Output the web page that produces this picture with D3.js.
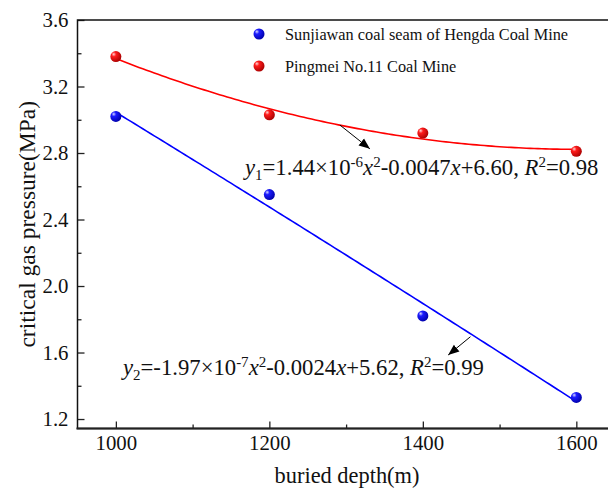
<html>
<head>
<meta charset="utf-8">
<script src="https://cdn.jsdelivr.net/npm/d3@7"></script>
</head>
<body style="margin:0">
<script>
// buried depth (m)
var depths = [1000, 1200, 1400, 1600];
// critical gas pressure (MPa)
var sunjiawan = [3.02, 2.55, 1.82, 1.33];
var pingmei = [3.38, 3.03, 2.92, 2.81];

var seriesNames = ["Sunjiawan coal seam of Hengda Coal Mine", "Pingmei No.11 Coal Mine"];
var xTicks = [1000, 1200, 1400, 1600];
var xMinor = [1100, 1300, 1500];
var yTicks = [1.2, 1.6, 2.0, 2.4, 2.8, 3.2, 3.6];
var yMinor = [1.4, 1.8, 2.2, 2.6, 3.0, 3.4];

var FONT = "'Liberation Serif'";
var W = 608, H = 491;
var plot = {left: 77.5, top: 20, right: 614.7, bottom: 428.5};

var svg = d3.select("body").append("svg")
    .attr("width", W)
    .attr("height", H)
    .style("display", "block");

var x = d3.scaleLinear().domain([950, 1650]).range([plot.left, plot.right]);
var y = d3.scaleLinear().domain([1.143, 3.6]).range([plot.bottom, plot.top]);

// gradients for the ball markers
var defs = svg.append("defs");
function ball(id, light, mid, dark) {
  var g = defs.append("radialGradient").attr("id", id)
      .attr("cx", "35%").attr("cy", "35%").attr("r", "70%")
      .attr("fx", "30%").attr("fy", "28%");
  g.append("stop").attr("offset", "0%").attr("stop-color", light);
  g.append("stop").attr("offset", "30%").attr("stop-color", mid);
  g.append("stop").attr("offset", "100%").attr("stop-color", dark);
}
ball("ballBlue", "#d8d8ff", "#1c1cff", "#0000a8");
ball("ballRed", "#ffd8d8", "#ff1c1c", "#a80000");

defs.append("marker")
    .attr("id", "arrow")
    .attr("viewBox", "0 0 10 10")
    .attr("refX", 10).attr("refY", 5)
    .attr("markerWidth", 11).attr("markerHeight", 11)
    .attr("markerUnits", "userSpaceOnUse")
    .attr("orient", "auto")
  .append("path")
    .attr("d", "M0,1 L10,5 L0,9 Z")
    .attr("fill", "#000");

// least squares quadratic fit of one series
function quadFit(xs, ys) {
  var n = xs.length, s = [0, 0, 0, 0, 0], t = [0, 0, 0];
  for (var i = 0; i < n; i++) {
    var u = (xs[i] - 1300) / 100;
    for (var k = 0; k < 5; k++) s[k] += Math.pow(u, k);
    for (var k = 0; k < 3; k++) t[k] += ys[i] * Math.pow(u, k);
  }
  var A = [[s[0], s[1], s[2], t[0]], [s[1], s[2], s[3], t[1]], [s[2], s[3], s[4], t[2]]];
  for (var c = 0; c < 3; c++) {
    for (var r = c + 1; r < 3; r++) {
      var f = A[r][c] / A[c][c];
      for (var k = c; k < 4; k++) A[r][k] -= f * A[c][k];
    }
  }
  var b = [0, 0, 0];
  for (var r = 2; r >= 0; r--) {
    var v = A[r][3];
    for (var k = r + 1; k < 3; k++) v -= A[r][k] * b[k];
    b[r] = v / A[r][r];
  }
  return function(xv) { var u = (xv - 1300) / 100; return b[0] + b[1] * u + b[2] * u * u; };
}

var line = d3.line().x(function(d) { return x(d[0]); }).y(function(d) { return y(d[1]); });
var xs = d3.range(1000, 1601, 5);

var fitRed = quadFit(depths, pingmei);
var fitBlue = quadFit(depths, sunjiawan);

svg.append("path")
    .attr("d", line(xs.map(function(v) { return [v, fitRed(v)]; })))
    .attr("fill", "none").attr("stroke", "#ff0000").attr("stroke-width", 1.6);
svg.append("path")
    .attr("d", line(xs.map(function(v) { return [v, fitBlue(v)]; })))
    .attr("fill", "none").attr("stroke", "#0000ff").attr("stroke-width", 1.6);

// axes (inward ticks)
var gx = svg.append("g").attr("transform", "translate(0," + plot.bottom + ")");
gx.call(d3.axisBottom(x).tickValues(xTicks).tickSize(-7).tickPadding(7).tickFormat(d3.format("d")));
gx.append("g").call(d3.axisBottom(x).tickValues(xMinor).tickSize(-4).tickFormat(""));

var gy = svg.append("g").attr("transform", "translate(" + plot.left + ",0)");
gy.call(d3.axisLeft(y).tickValues(yTicks).tickSize(-7).tickPadding(9).tickFormat(d3.format(".1f")));
gy.append("g").call(d3.axisLeft(y).tickValues(yMinor).tickSize(-4).tickFormat(""));

svg.selectAll(".domain").remove();
gx.attr("font-family", null);
gy.attr("font-family", null);
svg.selectAll(".tick line").attr("stroke", "#222").attr("stroke-width", 1.3);
svg.selectAll(".tick text").attr("font-size", 20.8).attr("fill", "#111");

// frame
svg.append("rect")
    .attr("x", plot.left).attr("y", plot.top)
    .attr("width", plot.right - plot.left).attr("height", plot.bottom - plot.top)
    .attr("fill", "none").attr("stroke", "#111").attr("stroke-width", 1.5);
svg.append("line")
    .attr("x1", plot.left - 1).attr("x2", plot.right)
    .attr("y1", plot.bottom).attr("y2", plot.bottom)
    .attr("stroke", "#222").attr("stroke-width", 2.2);

// axis titles
svg.append("text")
    .attr("x", 347).attr("y", 483)
    .attr("text-anchor", "middle").attr("font-size", 22.4).attr("fill", "#111")
    .text("buried depth(m)");
svg.append("text")
    .attr("transform", "translate(35," + ((plot.top + plot.bottom) / 2) + ") rotate(-90)")
    .attr("text-anchor", "middle").attr("font-size", 23.5).attr("fill", "#111")
    .text("critical gas pressure(MPa)");

// points
var series = [
  {name: seriesNames[0], values: sunjiawan, fill: "url(#ballBlue)"},
  {name: seriesNames[1], values: pingmei, fill: "url(#ballRed)"}
];
series.forEach(function(s) {
  svg.append("g").selectAll("circle")
    .data(depths.map(function(d, i) { return [d, s.values[i]]; }))
    .enter().append("circle")
      .attr("cx", function(d) { return x(d[0]); })
      .attr("cy", function(d) { return y(d[1]); })
      .attr("r", 5.5)
      .attr("fill", s.fill);
});

// legend
var legend = svg.append("g").selectAll("g")
    .data(series).enter().append("g")
    .attr("transform", function(d, i) { return "translate(259," + (34 + i * 32) + ")"; });
legend.append("circle").attr("r", 5.5).attr("fill", function(d) { return d.fill; });
legend.append("text")
    .attr("x", 26).attr("y", 5.5)
    .attr("font-size", 16.3).attr("fill", "#111")
    .text(function(d) { return d.name; });

// equations
function equation(px, py, parts) {
  var t = svg.append("text").attr("x", px).attr("y", py)
      .attr("font-size", 22.7).attr("fill", "#111");
  parts.forEach(function(p) {
    var ts = t.append("tspan").text(p.t);
    if (p.i) ts.attr("font-style", "italic");
    if (p.sub) ts.attr("font-size", 15).attr("baseline-shift", "-5");
    if (p.sup) ts.attr("font-size", 15).attr("baseline-shift", "8.5");
  });
}
equation(245, 175, [
  {t: "y", i: true}, {t: "1", sub: true}, {t: "=1.44\u00d710"}, {t: "-6", sup: true},
  {t: "x", i: true}, {t: "2", sup: true}, {t: "-0.0047"}, {t: "x", i: true},
  {t: "+6.60, "}, {t: "R", i: true}, {t: "2", sup: true}, {t: "=0.98"}
]);
equation(123, 375, [
  {t: "y", i: true}, {t: "2", sub: true}, {t: "=-1.97\u00d710"}, {t: "-7", sup: true},
  {t: "x", i: true}, {t: "2", sup: true}, {t: "-0.0024"}, {t: "x", i: true},
  {t: "+5.62, "}, {t: "R", i: true}, {t: "2", sup: true}, {t: "=0.99"}
]);

// arrows pointing from the curves to the equations
var arrows = [
  [[1292, 2.968], [1331, 2.825]],
  [[1462, 1.695], [1433, 1.585]]
];
svg.append("g").selectAll("line")
  .data(arrows).enter().append("line")
    .attr("x1", function(d) { return x(d[0][0]); })
    .attr("y1", function(d) { return y(d[0][1]); })
    .attr("x2", function(d) { return x(d[1][0]); })
    .attr("y2", function(d) { return y(d[1][1]); })
    .attr("stroke", "#000").attr("stroke-width", 1)
    .attr("marker-end", "url(#arrow)");

// serif face on every label
svg.selectAll("text, tspan")
    .attr("font-family", "Liberation Serif")
    .style("font-family", FONT);
</script>
</body>
</html>
